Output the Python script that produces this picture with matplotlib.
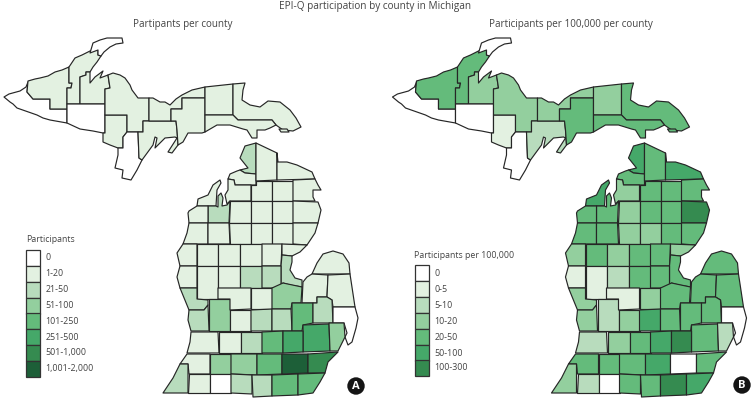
import matplotlib
matplotlib.use('Agg')
import matplotlib.pyplot as plt
from matplotlib.patches import Polygon, Rectangle, Circle

plt.rcParams['font.family'] = ['Open Sans', 'DejaVu Sans']

# county outlines, in pixels of the left map
county_outlines = [
    # upper peninsula
    [(4,97),(9,94),(20,91),(26,87),(28,82),(27,92),(33,99),(50,99),(50,109),(67,109),(67,123),(50,120),(43,118),(37,115),(17,108),(13,104),(10,102)],
    [(28,81),(35,79),(40,78),(48,76),(55,72),(62,70),(69,67),(69,83),(72,83),(71,88),(67,88),(67,109),(50,109),(50,99),(33,99),(27,92)],
    [(69,67),(75,58),(82,55),(88,52),(92,50),(98,50),(98,55),(101,56),(97,62),(93,67),(90,72),(86,72),(86,75),(80,77),(80,104),(67,104),(67,88),(71,88),(72,83),(69,83)],
    [(90,53),(93,43),(100,40),(107,38),(122,38),(123,43),(116,44),(110,47),(104,52),(101,56),(98,55),(98,50)],
    [(80,77),(86,75),(86,72),(90,72),(90,83),(95,77),(103,71),(100,78),(108,75),(110,88),(105,89),(105,104),(80,104)],
    [(67,104),(105,104),(105,133),(103,133),(93,131),(80,129),(67,123)],
    [(105,115),(127,115),(127,132),(123,137),(123,148),(118,148),(110,145),(103,142),(103,133),(105,133)],
    [(105,89),(110,88),(108,75),(113,73),(120,75),(125,78),(130,85),(132,90),(138,98),(149,98),(149,121),(143,121),(143,132),(127,132),(127,115),(105,115)],
    [(123,137),(127,132),(138,132),(139,158),(142,160),(137,170),(131,180),(122,178),(123,170),(115,168),(118,155),(118,148),(123,148)],
    [(143,121),(176,121),(177,130),(178,145),(172,153),(168,152),(177,138),(175,137),(165,138),(155,148),(157,138),(155,137),(153,145),(142,160),(139,158),(138,132),(143,132)],
    [(149,98),(153,98),(160,102),(165,102),(170,105),(176,99),(182,95),(192,90),(205,87),(205,98),(182,98),(182,109),(171,109),(171,121),(149,121)],
    [(171,109),(182,109),(182,98),(205,98),(205,132),(202,133),(188,133),(183,142),(178,145),(177,130),(176,121),(171,121)],
    [(205,87),(233,84),(233,115),(205,115)],
    [(233,84),(245,83),(243,90),(242,100),(250,105),(260,107),(268,101),(280,102),(290,110),(296,118),(301,127),(293,131),(283,130),(276,125),(272,120),(238,120),(233,115)],
    [(205,115),(233,115),(238,120),(272,120),(276,125),(270,128),(265,130),(257,130),(257,138),(252,138),(247,130),(243,129),(230,125),(217,125),(205,132)],
    # northern lower peninsula
    [(256,143),(256,174),(245,173),(240,170),(248,168),(240,158),(245,146)],
    [(240,170),(245,173),(256,174),(256,185),(235,185),(234,180),(228,179),(230,174),(237,171)],
    [(256,143),(277,153),(277,180),(256,181)],
    [(277,153),(278,162),(287,162),(297,165),(312,172),(315,179),(277,180)],
    [(228,179),(234,180),(235,185),(251,185),(251,201),(230,201),(227,204),(225,195),(228,190)],
    [(251,185),(256,185),(256,181),(272,181),(272,201),(251,201)],
    [(272,181),(293,181),(293,201),(272,201)],
    [(293,180),(315,179),(318,185),(321,190),(313,190),(313,197),(315,201),(293,201)],
    [(220,180),(221,183),(217,190),(216,206),(197,206),(198,199),(208,195),(213,185)],
    [(208,206),(216,206),(218,207),(218,196),(221,193),(223,198),(222,206),(227,205),(230,201),(229,223),(208,223)],
    [(189,211),(197,206),(208,206),(208,223),(189,223),(188,213)],
    [(230,201),(251,201),(251,223),(229,223)],
    [(251,201),(272,201),(272,223),(251,223)],
    [(272,201),(293,201),(293,223),(272,223)],
    [(293,201),(318,202),(321,210),(318,223),(293,223)],
    [(189,223),(208,223),(208,244),(183,244),(187,233)],
    [(208,223),(229,223),(230,244),(208,244)],
    [(229,223),(251,223),(251,244),(230,244)],
    [(251,223),(272,223),(272,244),(251,244)],
    [(272,223),(293,223),(293,244),(272,244)],
    [(293,223),(318,223),(315,233),(307,245),(293,244)],
    [(183,244),(197,244),(197,266),(180,266),(177,253)],
    [(197,244),(218,244),(218,266),(197,266)],
    [(218,244),(240,244),(240,266),(218,266)],
    [(240,244),(262,244),(262,266),(240,266)],
    [(262,244),(282,244),(281,266),(262,266)],
    [(282,244),(307,245),(300,252),(292,256),(282,255)],
    [(282,255),(292,256),(292,262),(290,270),(295,278),(302,280),(302,287),(290,285),(283,283),(281,287),(281,266)],
    # central lower peninsula
    [(180,266),(197,266),(197,288),(180,288),(177,277)],
    [(197,266),(218,266),(218,299),(197,299)],
    [(218,266),(240,266),(240,288),(218,288)],
    [(240,266),(262,266),(262,288),(240,288)],
    [(262,266),(281,266),(281,287),(272,288),(262,288)],
    [(312,274),(317,263),(323,254),(333,251),(343,254),(349,263),(350,274)],
    [(312,274),(328,275),(327,297),(317,297),(317,303),(302,303),(303,282),(307,277)],
    [(328,275),(350,274),(355,307),(333,307),(332,300),(327,297)],
    [(180,288),(197,288),(197,299),(208,300),(208,305),(204,310),(189,310)],
    [(209,299),(230,299),(230,331),(209,331)],
    [(218,288),(251,288),(251,309),(230,310),(230,299),(218,299)],
    [(251,288),(272,288),(272,309),(251,309)],
    [(272,288),(283,283),(302,287),(301,303),(292,303),(291,309),(272,309)],
    [(189,310),(204,310),(208,305),(209,331),(191,331),(188,320)],
    [(230,310),(251,310),(251,331),(230,331)],
    [(251,310),(272,309),(272,331),(251,331)],
    [(272,309),(291,309),(292,331),(272,331)],
    [(292,303),(313,303),(313,323),(303,325),(302,331),(292,331)],
    [(317,297),(327,297),(332,300),(333,323),(313,323),(313,303),(317,303)],
    [(333,307),(355,307),(358,318),(356,328),(352,342),(348,345),(345,337),(347,333),(344,323),(333,323)],
    [(303,325),(329,324),(330,351),(303,352)],
    [(329,323),(344,323),(345,337),(338,351),(330,351)],
    [(191,332),(218,332),(219,353),(187,353),(190,342)],
    [(219,332),(241,332),(241,353),(219,353)],
    [(241,332),(262,332),(262,353),(241,353)],
    [(262,332),(283,331),(283,353),(262,353)],
    [(283,331),(303,331),(303,352),(283,353)],
    # southern counties
    [(187,354),(210,354),(210,374),(189,374),(188,364),(180,364)],
    [(210,354),(231,354),(231,374),(210,374)],
    [(231,354),(257,354),(257,375),(231,374)],
    [(257,354),(282,354),(282,374),(257,375)],
    [(282,354),(308,354),(308,373),(282,374)],
    [(308,354),(338,352),(328,362),(325,373),(308,373)],
    [(180,364),(188,364),(188,393),(163,393),(173,378)],
    [(189,374),(210,374),(210,393),(188,393)],
    [(210,374),(231,374),(231,393),(210,393)],
    [(231,374),(252,375),(252,394),(231,393)],
    [(252,375),(272,375),(272,396),(253,397)],
    [(272,375),(298,374),(298,395),(272,396)],
    [(298,374),(325,373),(320,382),(313,393),(298,395)],
    # drummond island
    [(279,129),(287,129),(289,132),(281,132)],
]

# class of each county in the two maps, same order as the outlines
bins_count = [0,1,1,0,1,0,1,1,0,1,1,1,1,1,1,
              2,1,1,1,1,1,1,1,1,2,1,1,1,1,1,
              1,1,1,1,1,1,1,1,1,1,1,1,2,
              1,1,1,2,2,1,1,1,2,3,1,1,3,2,1,2,2,4,2,0,5,3,
              1,1,2,4,5,
              1,3,3,4,7,6,2,1,0,2,2,4,4,1]
bins_rate = [0,4,4,0,3,0,1,3,0,2,3,4,3,4,4,
             5,4,4,5,3,4,4,4,5,4,4,3,4,4,6,
             4,4,3,3,4,4,3,4,3,4,4,3,4,
             1,1,2,4,4,4,4,4,3,2,1,3,4,3,3,5,4,4,4,0,4,2,
             2,3,4,5,6,
             4,4,4,5,0,4,3,2,0,4,4,6,5,4]

bin_colors = ['#ffffff','#e3f1e1','#b8dcbd','#93cf9e','#64bb7b','#45a869','#358b50','#1d5f38']
labels_count = ['0','1-20','21-50','51-100','101-250','251-500','501-1,000','1,001-2,000']
labels_rate = ['0','0-5','5-10','10-20','20-50','50-100','100-300']

text_color = '#444444'
line_color = '#262626'
map_shift = 388.5

fig = plt.figure(figsize=(7.52, 4.0), dpi=100)
ax = fig.add_axes([0, 0, 1, 1])
ax.set_xlim(0, 752)
ax.set_ylim(400, 0)
ax.axis('off')


def draw_map(bins, shift):
    for outline, b in zip(county_outlines, bins):
        pts = [(x + shift, y) for x, y in outline]
        ax.add_patch(Polygon(pts, closed=True, facecolor=bin_colors[b], edgecolor=line_color,
                             linewidth=0.85, joinstyle='round'))


def draw_legend(title, labels, x, ys, title_x, title_y):
    ax.text(title_x, title_y, title, fontsize=6.3, color=text_color, va='center')
    for i, (lab, y) in enumerate(zip(labels, ys)):
        ax.add_patch(Rectangle((x, y - 8), 14, 16, facecolor=bin_colors[i], edgecolor='#333333', linewidth=0.9))
        ax.text(x + 19.5, y, lab, fontsize=6.4, color=text_color, va='center')


def draw_badge(letter, x, y):
    ax.add_patch(Circle((x, y), 8.7, facecolor='#151515', edgecolor='none'))
    ax.text(x, y + 0.3, letter, fontsize=8, color='white', fontweight='bold', ha='center', va='center')


draw_map(bins_count, 0)
draw_map(bins_rate, map_shift)

ax.text(375.5, 6.5, 'EPI-Q participation by county in Michigan', fontsize=7.2, color=text_color, ha='center', va='center')
ax.text(183, 25, 'Partipants per county', fontsize=7.1, color=text_color, ha='center', va='center')
ax.text(571, 25, 'Participants per 100,000 per county', fontsize=7.1, color=text_color, ha='center', va='center')

draw_legend('Participants', labels_count, 26, [258, 274, 290, 306, 321, 337, 353, 369], 26, 240)
draw_legend('Participants per 100,000', labels_rate, 415, [273, 289, 305, 321, 337, 353, 368], 414, 255)

draw_badge('A', 356, 386)
draw_badge('B', 742, 385)

fig.savefig('out.png', dpi=100)
